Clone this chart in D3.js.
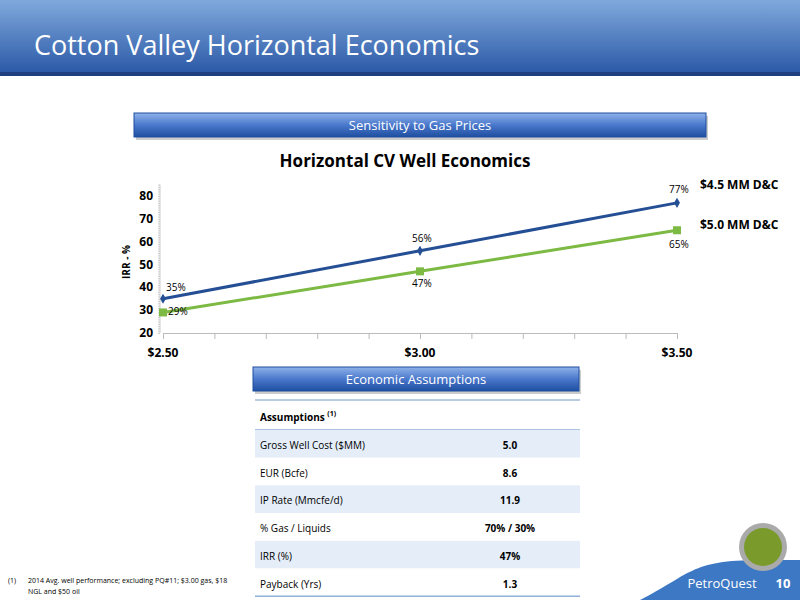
<!DOCTYPE html>
<html><head><meta charset="utf-8">
<script src="https://cdn.jsdelivr.net/npm/d3@7"></script>
<style>body{margin:0;background:#fff}text{font-family:"Open Sans",Calibri,sans-serif}</style>
</head><body><div class="slide"></div>
<script>
//data
var prices = [2.5, 3.0, 3.5];
var priceLabels = ['$2.50', '$3.00', '$3.50'];
var irr45 = [35, 56, 77];
var irr50 = [29, 47, 65];
var seriesNames = ['$4.5 MM D&C', '$5.0 MM D&C'];
var yTicks = [20, 30, 40, 50, 60, 70, 80];
var rowLabels = ['Gross Well Cost ($MM)', 'EUR (Bcfe)', 'IP Rate (Mmcfe/d)', '% Gas / Liquids', 'IRR (%)', 'Payback (Yrs)'];
var rowValues = ['5.0', '8.6', '11.9', '70% / 30%', '47%', '1.3'];

var svg = d3.select('.slide').append('svg').attr('width', 800).attr('height', 600);
var defs = svg.append('defs');
var g1 = defs.append('linearGradient').attr('id', 'hdr').attr('x1', 0).attr('y1', 0).attr('x2', 0).attr('y2', 1);
g1.append('stop').attr('offset', 0).attr('stop-color', '#7fa9dc');
g1.append('stop').attr('offset', 1).attr('stop-color', '#2d5aa8');
var g2 = defs.append('linearGradient').attr('id', 'btn').attr('x1', 0).attr('y1', 0).attr('x2', 0).attr('y2', 1);
g2.append('stop').attr('offset', 0).attr('stop-color', '#8fb2e8');
g2.append('stop').attr('offset', 0.5).attr('stop-color', '#4a78cc');
g2.append('stop').attr('offset', 1).attr('stop-color', '#1f4fa0');

//header
svg.append('rect').attr('width', 800).attr('height', 72).attr('fill', 'url(#hdr)');
svg.append('rect').attr('y', 72).attr('width', 800).attr('height', 4).attr('fill', '#1e3f80');
svg.append('text').attr('x', 34).attr('y', 55).attr('fill', '#fff').attr('font-size', 27).text('Cotton Valley Horizontal Economics');

//section buttons
function button(x, y, w, label){
  svg.append('rect').attr('x', x + 2).attr('y', y + 3).attr('width', w).attr('height', 24).attr('fill', '#999').attr('opacity', 0.5);
  svg.append('rect').attr('x', x).attr('y', y).attr('width', w).attr('height', 24).attr('fill', 'url(#btn)').attr('stroke', '#1f4fa0');
  svg.append('text').attr('x', x + w / 2).attr('y', y + 17).attr('text-anchor', 'middle').attr('fill', '#fff').attr('font-size', 13).text(label);
}
button(134, 113, 572, 'Sensitivity to Gas Prices');
button(253, 367, 326, 'Economic Assumptions');

//chart
svg.append('text').attr('x', 405).attr('y', 167).attr('text-anchor', 'middle').attr('font-size', 17).attr('font-weight', 'bold').text('Horizontal CV Well Economics');
var x = d3.scaleLinear().domain([2.5, 3.5]).range([163, 677]);
var y = d3.scaleLinear().domain([20, 80]).range([333, 196]);

var xa = svg.append('g').attr('transform', 'translate(0,333)')
  .call(d3.axisBottom(x).tickValues(d3.range(2.5, 3.51, 0.1)).tickSize(6).tickFormat(''));
xa.selectAll('line,path').attr('stroke', '#bbb');
svg.selectAll('.xl').data(prices).enter().append('text')
  .attr('x', d => x(d)).attr('y', 357).attr('text-anchor', 'middle').attr('font-size', 12).attr('font-weight', 'bold')
  .text((d, i) => priceLabels[i]);

var ya = svg.append('g').attr('transform', 'translate(160,0)')
  .call(d3.axisLeft(y).tickValues(d3.range(20, 86, 1)).tickSize(2).tickFormat(''));
ya.selectAll('line,path').attr('stroke', '#ccc');
ya.select('path').attr('d', 'M0,' + y(85) + 'V333');
svg.selectAll('.yl').data(yTicks).enter().append('text')
  .attr('x', 153).attr('y', d => y(d) + 4).attr('text-anchor', 'end').attr('font-size', 12).attr('font-weight', 'bold').text(d => d);
svg.append('text').attr('transform', 'translate(130,262) rotate(-90)').attr('text-anchor', 'middle').attr('font-size', 10).attr('font-weight', 'bold').text('IRR - %');

var line = d3.line().x((d, i) => x(prices[i])).y(d => y(d));
svg.append('path').datum(irr45).attr('d', line).attr('fill', 'none').attr('stroke', '#254f94').attr('stroke-width', 3);
svg.append('path').datum(irr50).attr('d', line).attr('fill', 'none').attr('stroke', '#7cba44').attr('stroke-width', 3);
svg.selectAll('.m1').data(irr45).enter().append('path')
  .attr('transform', (d, i) => 'translate(' + x(prices[i]) + ',' + y(d) + ')')
  .attr('d', d3.symbol(d3.symbolDiamond, 30)).attr('fill', '#254f94');
svg.selectAll('.m2').data(irr50).enter().append('rect')
  .attr('x', (d, i) => x(prices[i]) - 4).attr('y', d => y(d) - 4).attr('width', 8).attr('height', 8).attr('fill', '#7cba44');
var off45 = [[3, -8], [-8, -9], [-8, -10]];
var off50 = [[5, 3], [-8, 16], [-8, 18]];
svg.selectAll('.l1').data(irr45).enter().append('text')
  .attr('x', (d, i) => x(prices[i]) + off45[i][0]).attr('y', (d, i) => y(d) + off45[i][1]).attr('font-size', 10).text(d => d + '%');
svg.selectAll('.l2').data(irr50).enter().append('text')
  .attr('x', (d, i) => x(prices[i]) + off50[i][0]).attr('y', (d, i) => y(d) + off50[i][1]).attr('font-size', 10).text(d => d + '%');
svg.append('text').attr('x', 700).attr('y', 189).attr('font-size', 12).attr('font-weight', 'bold').text(seriesNames[0]);
svg.append('text').attr('x', 700).attr('y', 229).attr('font-size', 12).attr('font-weight', 'bold').text(seriesNames[1]);

//table
var tx = 255, tw = 325, rowH = 27.7, ty = 430;
svg.append('line').attr('x1', tx).attr('x2', tx + tw).attr('y1', 400).attr('y2', 400).attr('stroke', '#b8cce4').attr('stroke-width', 2);
var hd = svg.append('text').attr('x', tx + 5).attr('y', 421).attr('font-size', 10).attr('font-weight', 'bold').text('Assumptions ');
hd.append('tspan').attr('dy', -5).attr('font-size', 7).text('(1)');
svg.append('line').attr('x1', tx).attr('x2', tx + tw).attr('y1', ty).attr('y2', ty).attr('stroke', '#8fb0d8').attr('stroke-width', 1.5);
var rows = svg.selectAll('.row').data(rowLabels).enter().append('g')
  .attr('transform', (d, i) => 'translate(' + tx + ',' + (ty + i * rowH) + ')');
rows.append('rect').attr('width', tw).attr('height', rowH).attr('fill', (d, i) => i % 2 == 0 ? '#e4edf8' : '#fff');
rows.append('text').attr('x', 5).attr('y', 19).attr('font-size', 10).text(d => d);
rows.append('text').attr('x', 510 - tx).attr('y', 19).attr('text-anchor', 'middle').attr('font-size', 10).attr('font-weight', 'bold').text((d, i) => rowValues[i]);
svg.append('line').attr('x1', tx).attr('x2', tx + tw).attr('y1', ty + 6 * rowH).attr('y2', ty + 6 * rowH).attr('stroke', '#8fb0d8').attr('stroke-width', 1.5);

//footnote
svg.append('text').attr('x', 8).attr('y', 583).attr('font-size', 7).text('(1)');
svg.append('text').attr('x', 28).attr('y', 583).attr('font-size', 7).text('2014 Avg. well performance; excluding PQ#11; $3.00 gas, $18');
svg.append('text').attr('x', 28).attr('y', 594).attr('font-size', 7).text('NGL and $50 oil');

//logo corner
svg.append('path').attr('d', 'M640,600 C690,575 690,560 760,560 L800,560 L800,600 Z').attr('fill', '#3d78c4');
svg.append('circle').attr('cx', 763).attr('cy', 547).attr('r', 24).attr('fill', '#aaa');
svg.append('circle').attr('cx', 763).attr('cy', 547).attr('r', 19).attr('fill', '#7a9a2c');
svg.append('text').attr('x', 722).attr('y', 588).attr('text-anchor', 'middle').attr('fill', '#fff').attr('font-size', 13).attr('font-family', 'serif').text('PetroQuest');
svg.append('text').attr('x', 783).attr('y', 588).attr('text-anchor', 'middle').attr('fill', '#fff').attr('font-size', 13).attr('font-weight', 'bold').text('10');
</script></body></html>
